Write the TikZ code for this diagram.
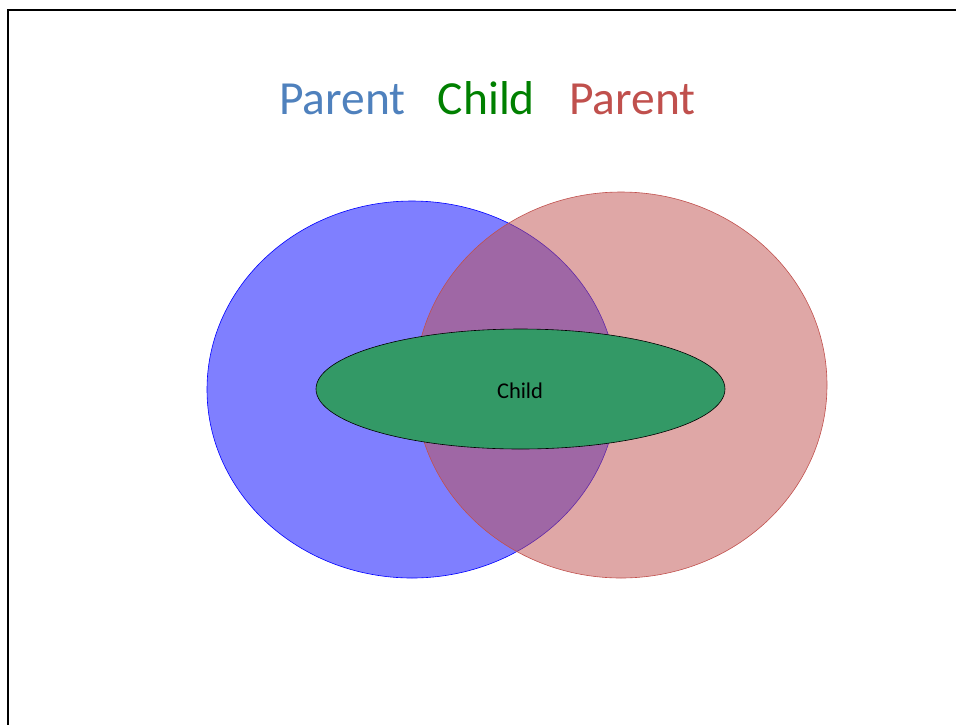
\documentclass[tikz,border=0pt]{standalone}
\usepackage{fontspec}
\setmainfont{Carlito}
\usetikzlibrary{shapes.geometric}
\definecolor{titleblue}{HTML}{4F81BD}
\definecolor{titlegreen}{HTML}{008000}
\definecolor{titlered}{HTML}{C0504D}
\definecolor{childgreen}{HTML}{339966}
\tikzset{
  setshape/.style={ellipse, inner sep=0pt, line width=0.6pt},
  titletext/.style={font=\fontsize{47.5}{52}\selectfont, anchor=base, inner sep=0pt},
}
\begin{document}
\begin{tikzpicture}[x=1pt,y=-1pt]
\useasboundingbox (0,0) rectangle (956,724);
\draw[line width=2.8pt] (8,730) -- (8,10) -- (962,10);
\node[setshape, draw=blue, fill=blue, fill opacity=0.5, minimum width=410pt, minimum height=377pt] (blueparent) at (412,389.5) {};
\node[setshape, draw=titlered, fill=titlered, fill opacity=0.5, minimum width=412pt, minimum height=386pt] (redparent) at (621,385) {};
\node[setshape, draw=black, fill=childgreen, minimum width=409pt, minimum height=120pt] (child) at (520.5,389) {};
\node[font=\fontsize{22.5}{26}\selectfont, anchor=base, inner sep=0pt] (childlabel) at (520,398) {Child};
\node[titletext, text=titleblue] (t1) at (342.5,114) {Parent};
\node[titletext, text=titlegreen] (t2) at (486.5,114) {Child};
\node[titletext, text=titlered] (t3) at (632.5,114) {Parent};
\end{tikzpicture}
\end{document}
